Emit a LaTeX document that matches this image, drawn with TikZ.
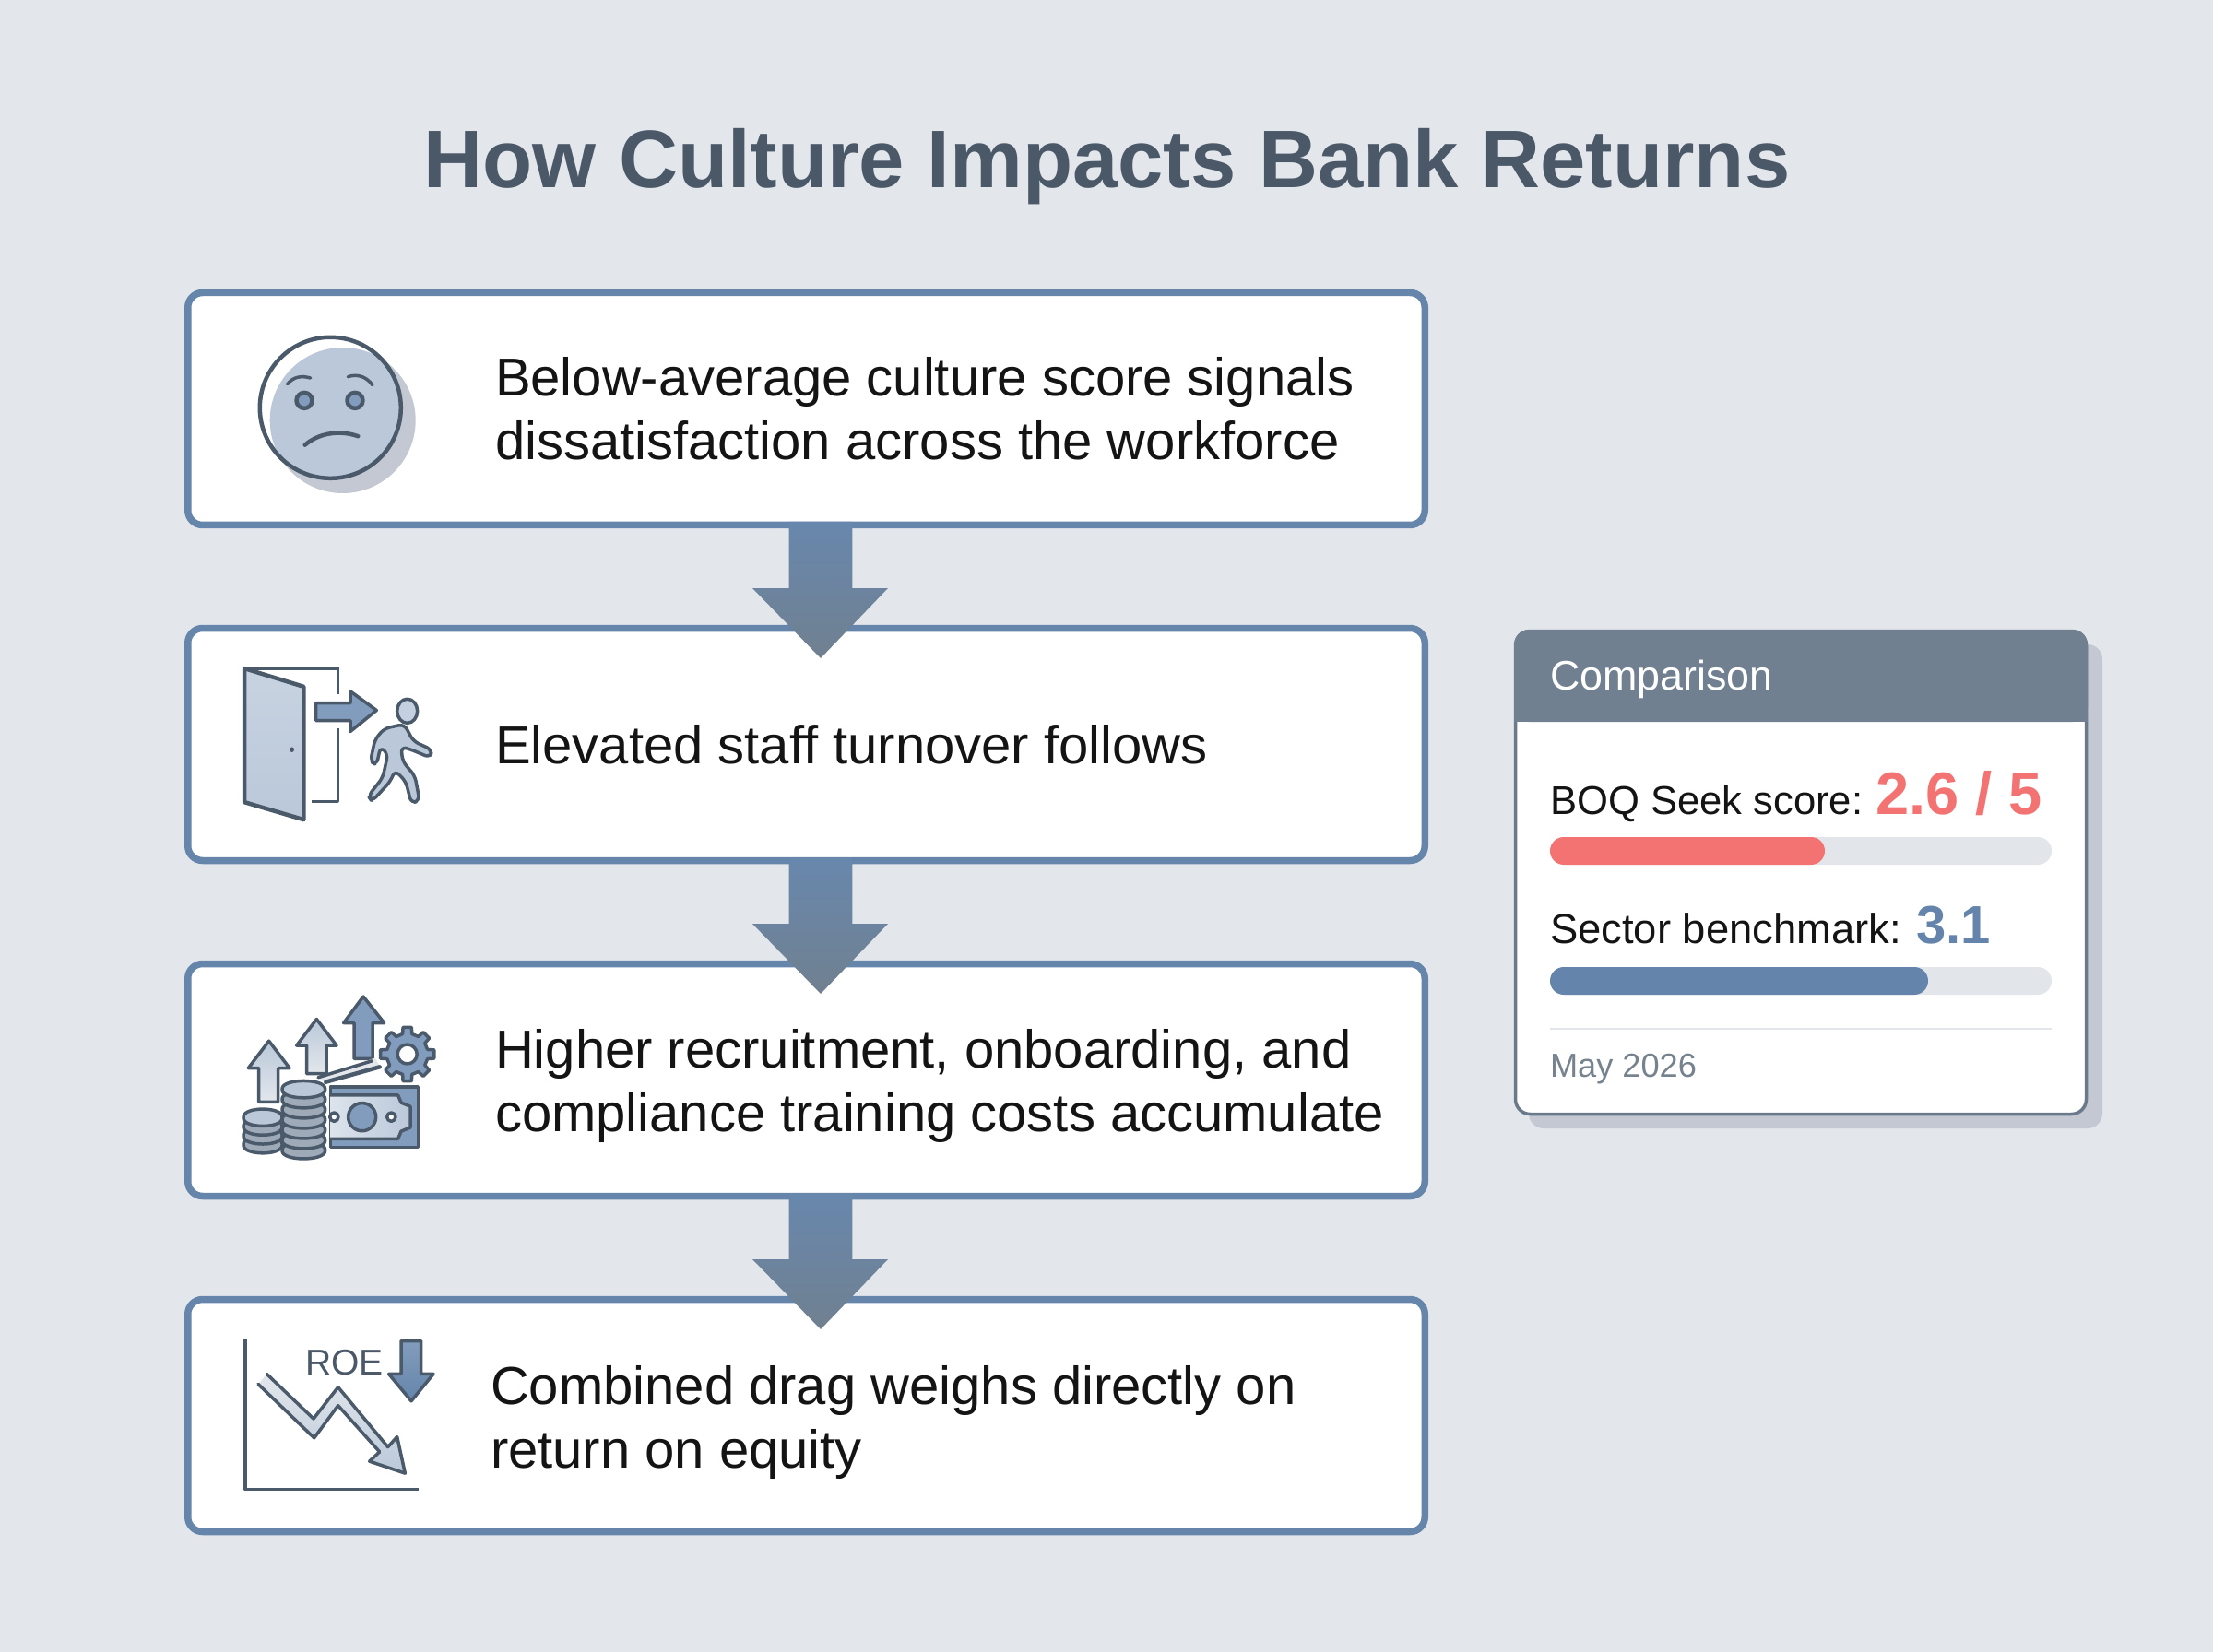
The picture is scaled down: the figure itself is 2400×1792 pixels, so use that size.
\documentclass[tikz,border=0pt]{standalone}
\usepackage{fontspec}
\setmainfont{Liberation Sans}
\usetikzlibrary{calc,shapes.geometric}
\definecolor{bgc}{HTML}{E3E7EC}
\definecolor{edgeb}{HTML}{6585AB}
\definecolor{titlec}{HTML}{4A5868}
\definecolor{ink}{HTML}{4A5A6B}
\definecolor{lightb}{HTML}{BAC8D9}
\definecolor{midb}{HTML}{829CBD}
\definecolor{cardedge}{HTML}{6B7A8B}
\definecolor{cardhead}{HTML}{708090}
\definecolor{cardshadow}{HTML}{C3C8D3}
\definecolor{trackc}{HTML}{E2E6EA}
\definecolor{redc}{HTML}{F37272}
\definecolor{bluec}{HTML}{6484AB}
\definecolor{greyt}{HTML}{76838F}
\tikzset{
  flowbox/.style={draw=edgeb,line width=3.75pt,fill=white,rounded corners=8pt,minimum width=670.75pt,minimum height=126pt,inner sep=0pt,outer sep=0pt},
  bodytext/.style={anchor=base west,inner sep=0pt,outer sep=0pt,align=left,text=black!92,font=\fontsize{29}{34.5}\selectfont},
  icon/.style={draw=ink,line width=2.25pt,line join=round,line cap=round},
  thin icon/.style={draw=ink,line width=1.75pt,line join=round,line cap=round},
  coin/.style={draw=ink,line width=1.75pt,fill=#1,line join=round},
  flowarrow/.style={top color=edgeb!98!white,bottom color=cardhead,draw=none},
  cardtext/.style={anchor=base west,inner sep=0pt,outer sep=0pt,text=black!92},
  bar/.style={rounded corners=7.5pt,draw=none}
}
\newcommand{\flowarr}[2]{%
  \path[flowarrow]
    ($(#1.south)+(-18.8,-3.5)$) -- ($(#1.south)+(49.8,-3.5)$) --
    ($(#1.south)+(49.8,68.5)$) -- ($(#1.south)+(88.5,68.5)$) --
    ($(#2.north)+(15.5,32.5)$) --
    ($(#1.south)+(-58.5,68.5)$) -- ($(#1.south)+(-18.8,68.5)$) -- cycle;}
\begin{document}
\begin{tikzpicture}[x=0.5pt,y=-0.5pt]
\useasboundingbox (0,0) rectangle (2400,1792);
\fill[bgc] (0,0) rectangle (2400,1792);
\node[anchor=base,inner sep=0pt,text=titlec,font=\fontsize{44.3}{50}\selectfont\bfseries] (title) at (1200.5,204) {How Culture Impacts Bank Returns};

\node[flowbox] (b1) at (874.5,443.5) {};
\node[flowbox] (b2) at (874.5,807.5) {};
\node[flowbox] (b3) at (874.5,1171.5) {};
\node[flowbox] (b4) at (874.5,1535.5) {};
\flowarr{b1}{b2}
\flowarr{b2}{b3}
\flowarr{b3}{b4}

\node[bodytext] (t1) at (537,499) {Below-average culture score signals\\dissatisfaction across the workforce};
\node[bodytext] (t2) at (537,828) {Elevated staff turnover follows};
\node[bodytext] (t3) at (537,1227) {Higher recruitment, onboarding, and\\compliance training costs accumulate};
\node[bodytext] (t4) at (532,1592) {Combined drag weighs directly on\\return on equity};

% face icon
\fill[color=cardshadow] (371.7,456) circle[radius=79];
\begin{scope}
  \clip (358.3,442.3) circle[radius=77.5];
  \fill[white] (358.3,442.3) circle[radius=77.5];
  \fill[lightb] (371.7,456) circle[radius=79];
\end{scope}
\draw[icon] (358.3,442.3) circle[radius=76.5];
\filldraw[fill=midb,icon] (330,434.4) circle[radius=8.5];
\filldraw[fill=midb,icon] (385,434.4) circle[radius=8.5];
\draw[thin icon] (311.7,416.6) .. controls (318,409) and (326,407) .. (336.7,410);
\draw[thin icon] (377.3,408.7) .. controls (388,405) and (398,409) .. (404,417.8);
\draw[icon] (330.7,482.7) .. controls (345,470) and (368,466) .. (388.3,473.2);

% door and walker icon (zoom coordinates)
\begin{scope}[shift={(190,300)},x=0.16667pt,y=-0.1977pt]
  \draw[thin icon,line cap=butt] (225,1075) -- (530,1075) -- (530,1145);
  \draw[thin icon,line cap=butt] (530,1240) -- (530,1440) -- (445,1440);
  \draw[icon,top color=lightb!80!white,bottom color=lightb] (225,1075) -- (418,1125) -- (418,1490) -- (225,1442) -- cycle;
  \fill[ink] (380,1298) circle[radius=7];
  \draw[thin icon,fill=midb] (458,1170) -- (570,1170) -- (570,1138) -- (655,1190) -- (570,1248) -- (570,1218) -- (458,1218) -- cycle;
  \draw[thin icon,fill=lightb!85!white] (755,1192) circle[x radius=33,y radius=33];
  \draw[thin icon,fill=lightb,rounded corners=3pt] (680,1240) -- (745,1228) -- (775,1275) -- (835,1298) -- (830,1320) -- (765,1297) -- (735,1290) -- (740,1330) -- (780,1370) -- (795,1438) -- (768,1445) -- (750,1385) -- (715,1355) -- (700,1385) -- (640,1440) -- (628,1425) -- (675,1375) -- (692,1310) -- (668,1290) -- (655,1340) -- (635,1330) -- (650,1270) -- cycle;
\end{scope}

% gear (pixel coordinates)
\draw[thin icon,fill=midb] ([shift={(441.7,1143.5)}]-13:22.5)
  \foreach \a in {0,45,...,315} {
    -- ([shift={(441.7,1143.5)}]\a-13:22.5) -- ([shift={(441.7,1143.5)}]\a-9:29.5) -- ([shift={(441.7,1143.5)}]\a+9:29.5) -- ([shift={(441.7,1143.5)}]\a+13:22.5)
  } -- cycle;
\draw[thin icon,fill=white] (441.7,1143.5) circle[radius=10.5];

% cost icon (zoom coordinates)
\begin{scope}[shift={(190,1030)},x=0.16667pt,y=-0.20408pt]
  \draw[thin icon,top color=lightb,bottom color=bgc] (305,243) -- (372,315) -- (335,315) -- (335,405) -- (272,405) -- (272,315) -- (238,315) -- cycle;
  \draw[thin icon,top color=lightb,bottom color=bgc] (460,185) -- (525,255) -- (492,255) -- (492,330) -- (428,330) -- (428,255) -- (395,255) -- cycle;
  \draw[thin icon,fill=midb] (612,125) -- (680,195) -- (642,195) -- (642,290) -- (582,290) -- (582,195) -- (548,195) -- cycle;
  \fill[bgc] (465,340) -- (650,288) -- (670,315) -- (490,356) -- cycle;
  \draw[thin icon] (465,340) -- (640,296);
  \draw[icon] (490,352) -- (665,312);
  \draw[thin icon,fill=midb] (505,365) rectangle (790,525);
  \draw[thin icon,left color=lightb!50!white,right color=lightb] (505,387) -- (725,387) -- (735,407) -- (765,417) -- (765,473) -- (735,483) -- (725,503) -- (505,503);
  \draw[thin icon,fill=midb] (608,445) circle[x radius=45,y radius=37];
  \draw[thin icon,fill=white] (517,445) circle[x radius=14,y radius=11.5];
  \draw[thin icon,fill=white] (703,445) circle[x radius=14,y radius=11.5];
  \foreach \T in {517,493,469} {
    \draw[coin=lightb!85!black] (222,\T) .. controls (222,\T-28) and (348,\T-28) .. (348,\T) -- (348,\T+3) .. controls (348,\T+31) and (222,\T+31) .. (222,\T+3) -- cycle;
  }
  \draw[coin=lightb] (222,445) .. controls (222,417) and (348,417) .. (348,445) -- (348,448) .. controls (348,476) and (222,476) .. (222,448) -- cycle;
  \foreach \T in {532,505,478,451,424,397} {
    \draw[coin=lightb!85!black] (348,\T) .. controls (348,\T-28) and (488,\T-28) .. (488,\T) -- (488,\T+3) .. controls (488,\T+31) and (348,\T+31) .. (348,\T+3) -- cycle;
  }
  \draw[coin=lightb] (348,370) .. controls (348,342) and (488,342) .. (488,370) -- (488,373) .. controls (488,401) and (348,401) .. (348,373) -- cycle;
\end{scope}

% ROE icon (zoom coordinates)
\begin{scope}[shift={(190,1030)},x=0.16667pt,y=-0.20408pt]
  \draw[thin icon,line cap=butt] (228,1037) -- (228,1435) -- (793,1435);
  \path[top color=bgc,bottom color=lightb] (298,1128) -- (450,1247) -- (530,1163) -- (692,1322) -- (722,1295) -- (748,1392) -- (632,1360) -- (665,1335) -- (530,1212) -- (452,1298) -- (270,1155) -- cycle;
  \draw[thin icon] (298,1128) -- (450,1247) -- (530,1163) -- (692,1322) -- (722,1295) -- (748,1392) -- (632,1360) -- (665,1335) -- (530,1212) -- (452,1298) -- (270,1155);
  \draw[thin icon,top color=midb,bottom color=edgeb] (735,1040) -- (800,1040) -- (800,1128) -- (840,1128) -- (768,1200) -- (695,1128) -- (735,1128) -- cycle;
  \node[anchor=base west,inner sep=0pt,text=titlec,font=\fontsize{19.5}{22}\selectfont] (roe) at (423,1130) {ROE};
\end{scope}

% comparison card
\fill[cardshadow,rounded corners=8pt] (1658,699) rectangle (2280,1224);
\filldraw[fill=white,draw=cardedge,line width=1.75pt,rounded corners=8pt] (1643.5,684.5) rectangle (2262.5,1208.5);
\fill[cardhead,rounded corners=8pt] (1642,683) -- (2264,683) -- (2264,783) -- (1642,783) -- cycle;
\fill[cardhead] (1642,760) rectangle (2264,783);
\node[cardtext,text=white,font=\fontsize{22.4}{26}\selectfont] (comp) at (1681,748) {Comparison};
\node[cardtext,font=\fontsize{21.8}{26}\selectfont] (boq) at (1681,883) {BOQ Seek score:};
\node[cardtext,text=redc,font=\fontsize{32.5}{36}\selectfont\bfseries] (boqv) at (2034,883) {2.6 / 5};
\fill[trackc,bar] (1681,908) rectangle (2225,938);
\fill[redc,bar] (1681,908) rectangle (1979,938);
\node[cardtext,font=\fontsize{22.7}{26}\selectfont] (sec) at (1681,1023) {Sector benchmark:};
\node[cardtext,text=bluec,font=\fontsize{29}{36}\selectfont\bfseries] (secv) at (2078,1023) {3.1};
\fill[trackc,bar] (1681,1049) rectangle (2225,1079);
\fill[bluec,bar] (1681,1049) rectangle (2091,1079);
\draw[trackc,line width=1pt] (1681,1116) -- (2225,1116);
\node[cardtext,text=greyt,font=\fontsize{18.1}{22}\selectfont] (date) at (1681,1168) {May 2026};
\end{tikzpicture}
\end{document}
